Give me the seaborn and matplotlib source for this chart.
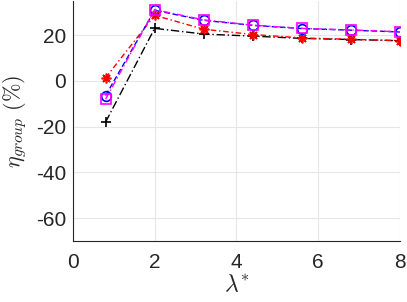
import pandas as pd
import matplotlib
matplotlib.use("Agg")
import matplotlib.pyplot as plt
import seaborn as sns
from matplotlib.ticker import AutoMinorLocator

# Data
lam = [0.8, 2.0, 3.2, 4.4, 5.6, 6.8, 8.0]
eta_black = [-18.0, 23.0, 20.5, 19.6, 18.6, 18.1, 17.6]
eta_red = [1.4, 28.7, 22.6, 20.3, 18.8, 18.2, 17.6]
eta_blue = [-6.4, 30.9, 26.5, 24.3, 22.9, 22.2, 21.4]
eta_magenta = [-8.0, 31.2, 26.7, 24.4, 23.0, 22.3, 21.5]

sns.set_style("white")
plt.rcParams['font.family'] = ['Liberation Sans', 'DejaVu Sans']
plt.rcParams['mathtext.fontset'] = 'cm'
plt.rcParams['axes.unicode_minus'] = False

fig = plt.figure(figsize=(4.07, 3.02), dpi=100)
ax = fig.add_axes([0.179, 0.202, 0.804, 0.795])

series = [
    (eta_black, 'black', '+', (0, (6, 2, 1, 2)), 'none'),
    (eta_red, 'red', (8, 2, 0), (0, (4, 2, 1, 2)), 'none'),
    (eta_blue, 'blue', 'o', (0, (4, 2)), 'none'),
    (eta_magenta, 'magenta', 's', (0, (5, 2, 1, 2)), 'none'),
]
for vals, col, mk, ls, fc in series:
    df = pd.DataFrame({'lam': lam, 'eta': vals})
    sns.lineplot(data=df, x='lam', y='eta', ax=ax, color=col, marker=mk,
                 linestyle=ls, linewidth=1.0, markersize=7,
                 markerfacecolor=fc, markeredgecolor=col, markeredgewidth=1.2)

ax.set_xlim(0, 8)
ax.set_ylim(-70, 35)
ax.set_xticks([0, 2, 4, 6, 8])
ax.set_yticks([-60, -40, -20, 0, 20])
ax.xaxis.set_minor_locator(AutoMinorLocator(4))
ax.yaxis.set_minor_locator(AutoMinorLocator(4))
ax.grid(True, which='major', color='#e6e6e6', linewidth=0.8)
ax.set_axisbelow(True)
ax.tick_params(axis='both', which='major', direction='in', length=3,
               labelsize=15, color='#262626', labelcolor='#262626')
ax.tick_params(axis='x', which='major', pad=9)
ax.tick_params(axis='y', which='major', pad=5)
ax.tick_params(axis='both', which='minor', direction='in', length=2,
               color='#262626')
for s in ['top', 'right']:
    ax.spines[s].set_visible(False)
for s in ['left', 'bottom']:
    ax.spines[s].set_color('#262626')
    ax.spines[s].set_linewidth(0.8)

ax.set_xlabel(r'$\lambda^{*}$', fontsize=17)
ax.set_ylabel(r'$\eta_{group}\ (\%)$', fontsize=16)
ax.xaxis.set_label_coords(0.5, -0.14)
ax.yaxis.set_label_coords(-0.135, 0.5)

fig.savefig('out.png', dpi=100)
